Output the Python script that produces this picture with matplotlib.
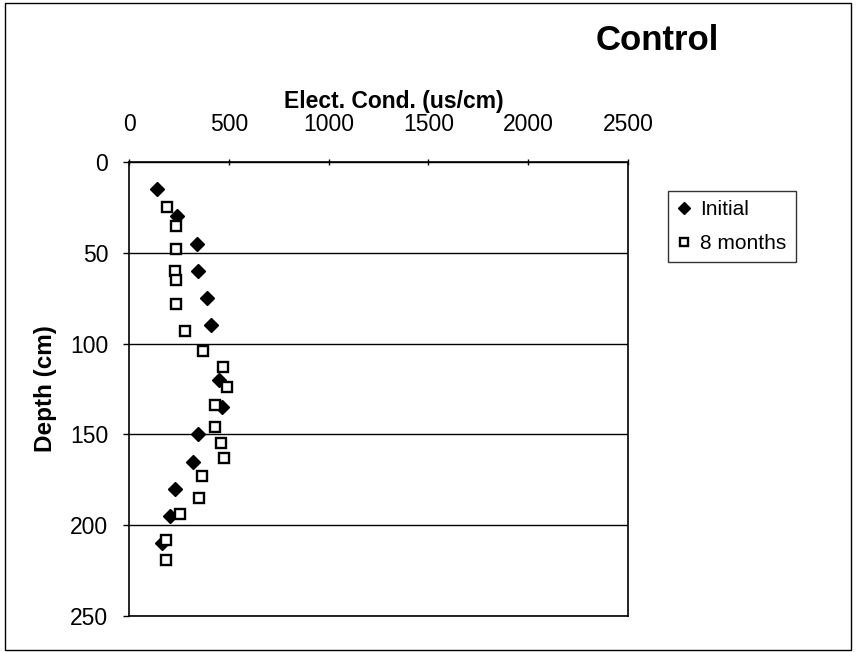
import matplotlib
matplotlib.use('Agg')
import matplotlib.pyplot as plt
from matplotlib.patches import Rectangle

plt.rcParams['font.family'] = ['Liberation Sans', 'DejaVu Sans']

# dados
depth_initial = [15, 30, 45, 60, 75, 90, 120, 135, 150, 165, 180, 195, 210]
ec_initial = [140, 240, 340, 345, 390, 410, 449, 465, 345, 322, 228, 203, 165]

depth_8m = [25, 35, 48, 60, 65, 78, 93, 104, 113, 124, 134, 146, 155, 163, 173, 185, 194, 208, 219]
ec_8m = [190, 235, 235, 230, 237, 237, 282, 371, 472, 492, 432, 429, 460, 474, 368, 350, 256, 186, 183]

x_ticks = [0, 500, 1000, 1500, 2000, 2500]
y_ticks = [0, 50, 100, 150, 200, 250]

W, H = 856, 652
fig = plt.figure(figsize=(W / 100, H / 100), dpi=100)
ax = fig.add_axes([129 / W, 1 - 616 / H, 499 / W, 454 / H])

ax.plot(ec_initial, depth_initial, 'kD', markersize=7, label='Initial', zorder=3)
ax.plot(ec_8m, depth_8m, 's', color='black', markerfacecolor='white',
        markersize=6.5, markeredgewidth=1.7, label='8 months', zorder=4)

ax.set_xlim(0, 2500)
ax.set_ylim(250, 0)
ax.set_xticks(x_ticks)
ax.set_yticks(y_ticks)
ax.xaxis.tick_top()
ax.xaxis.set_label_position('top')
ax.tick_params(axis='x', direction='inout', length=5, width=1, pad=16, labelsize=16.5)
ax.tick_params(axis='y', direction='out', length=4, width=1, pad=11, labelsize=16.5)
ax.yaxis.grid(True, color='black', linewidth=1)
ax.set_axisbelow(True)
for s in ax.spines.values():
    s.set_linewidth(1.2)

ax.set_xlabel('Elect. Cond. (us/cm)', fontsize=16.5, fontweight='bold', labelpad=4, x=0.53)
ax.set_ylabel('Depth (cm)', fontsize=17.5, fontweight='bold', labelpad=9)

fig.text(657 / W, 1 - 40 / H, 'Control', fontsize=25, fontweight='bold',
         ha='center', va='center')

leg = fig.legend(loc='upper left', bbox_to_anchor=(668 / W, 1 - 191 / H),
                 fontsize=15, frameon=True, fancybox=False, handlelength=0.6,
                 handletextpad=0.5, borderpad=0.45, labelspacing=0.7,
                 borderaxespad=0, markerscale=0.85)
leg.get_frame().set_edgecolor('black')
leg.get_frame().set_linewidth(1)

# moldura externa
fig.patches.append(Rectangle((5 / W, 2 / H), 846 / W, 647 / H, transform=fig.transFigure,
                             fill=False, edgecolor='black', linewidth=1))

fig.savefig('out.png', dpi=100)
